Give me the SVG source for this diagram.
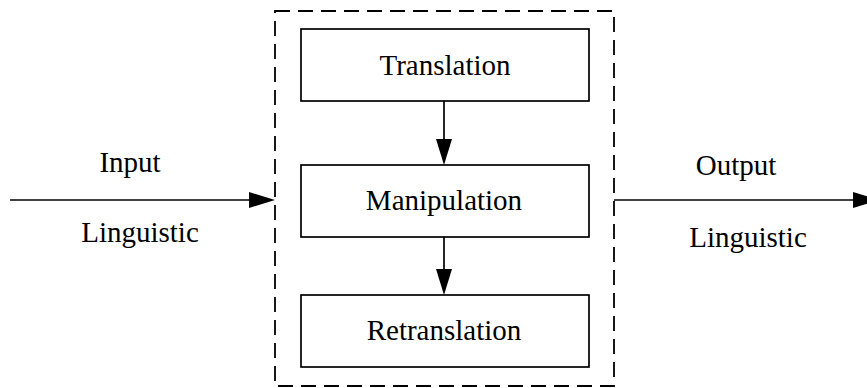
<svg xmlns="http://www.w3.org/2000/svg" width="867" height="388" viewBox="0 0 867 388">
  <style>
    .box { fill: #ffffff; stroke: #000000; stroke-width: 1.7; }
    .frame { fill: none; stroke: #000000; stroke-width: 1.8; stroke-dasharray: 15 8; }
    .edge { fill: none; stroke: #000000; stroke-width: 1.7; }
    .head { fill: #000000; stroke: none; }
    text { font-family: "Liberation Serif", "Times New Roman", serif; font-size: 29px; fill: #000000; text-anchor: middle; }
  </style>

  <!-- dashed process frame -->
  <g id="frame">
    <rect class="frame" x="275" y="11" width="339" height="375"/>
  </g>

  <g id="translation">
    <rect class="box" x="301" y="29" width="288" height="72"/>
    <text x="445" y="75">Translation</text>
  </g>

  <g id="manipulation">
    <rect class="box" x="301" y="165" width="288" height="72"/>
    <text x="444" y="210">Manipulation</text>
  </g>

  <g id="retranslation">
    <rect class="box" x="301" y="295" width="288" height="72"/>
    <text x="444" y="340">Retranslation</text>
  </g>

  <!-- input / output labels -->
  <g id="input-label">
    <text x="130" y="172">Input</text>
    <text x="140" y="242">Linguistic</text>
  </g>
  <g id="output-label">
    <text x="736" y="175">Output</text>
    <text x="748" y="247">Linguistic</text>
  </g>

  <!-- connectors -->
  <g id="connectors">
    <line class="edge" x1="10" y1="200" x2="252" y2="200"/>
    <polygon class="head" points="249,192 275,200 249,208"/>

    <line class="edge" x1="444" y1="101" x2="444" y2="142"/>
    <polygon class="head" points="436,139 452,139 444,165"/>

    <line class="edge" x1="444" y1="237" x2="444" y2="272"/>
    <polygon class="head" points="436,269 452,269 444,295"/>

    <line class="edge" x1="614" y1="200" x2="856" y2="200"/>
    <polygon class="head" points="853,192 879,200 853,208"/>
  </g>
</svg>
